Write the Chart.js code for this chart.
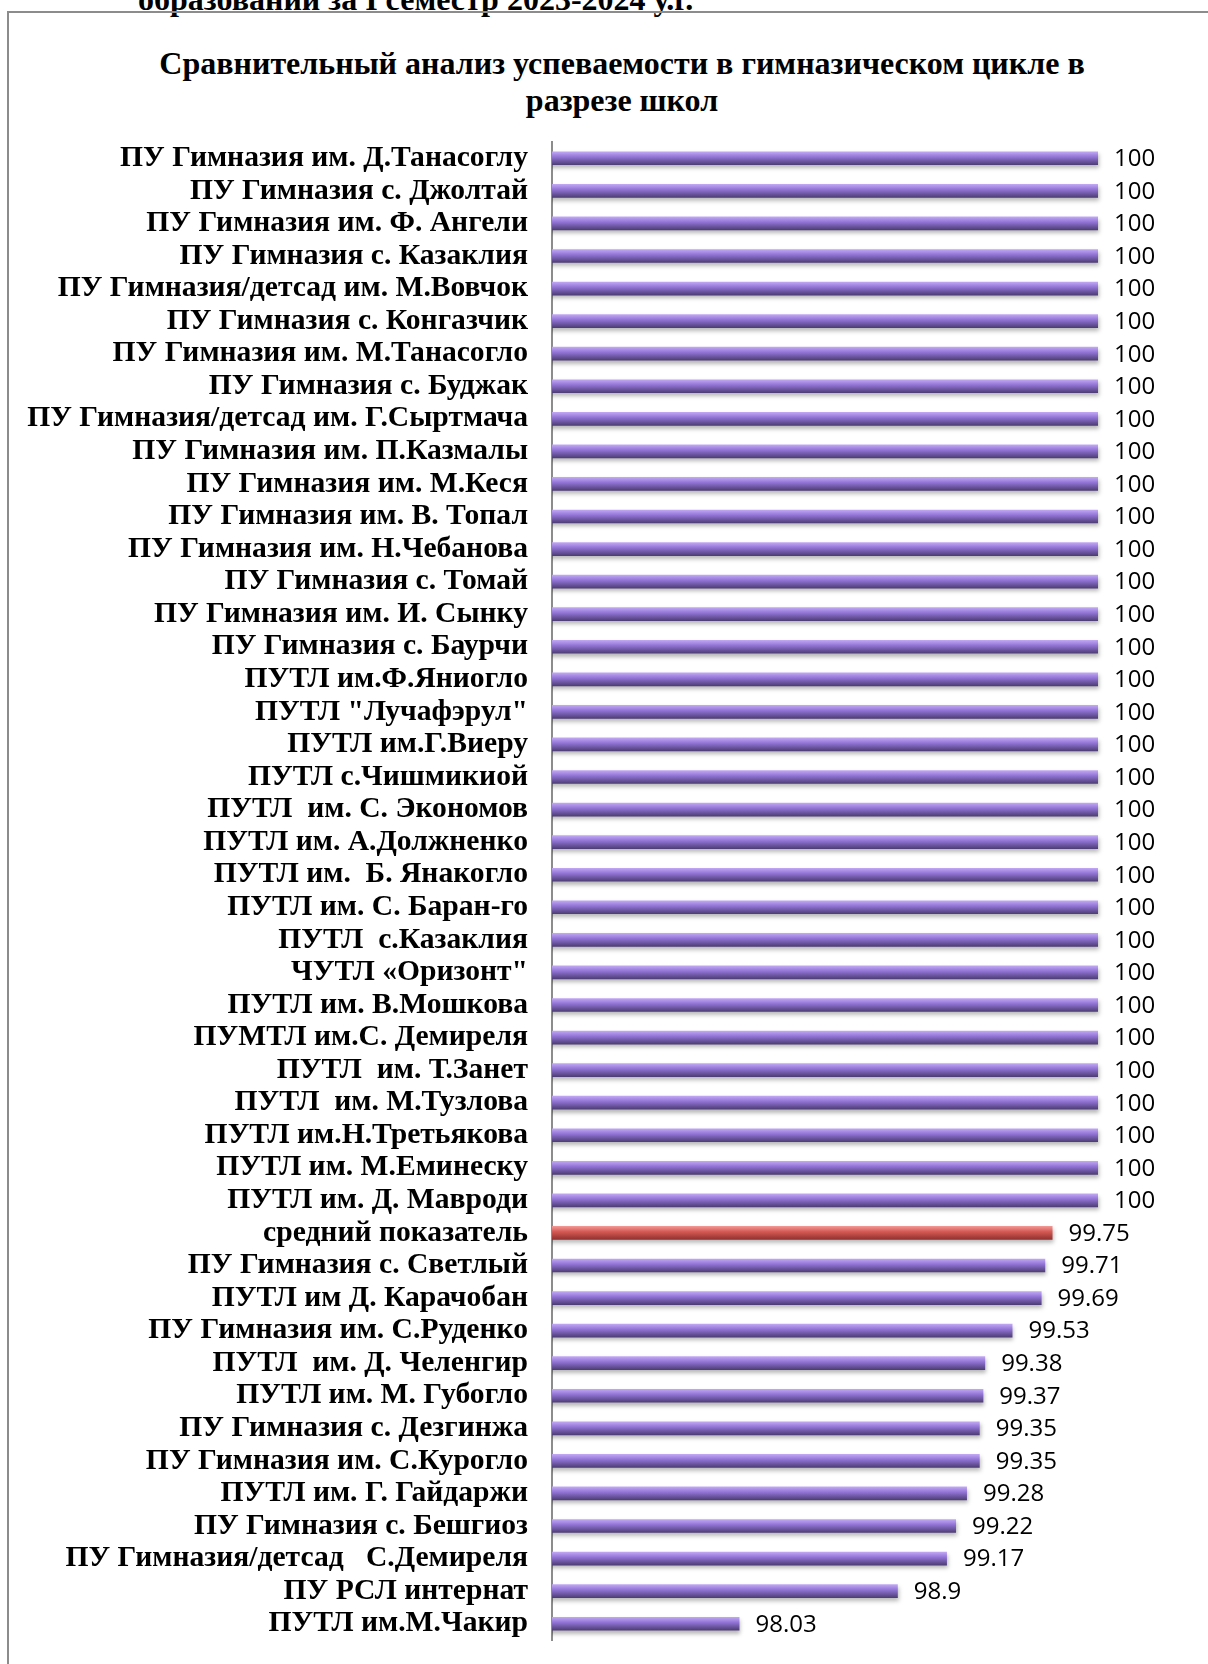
<!DOCTYPE html>
<html lang="ru">
<head>
<meta charset="utf-8">
<title>Успеваемость в гимназическом цикле</title>
<script src="https://cdn.jsdelivr.net/npm/chart.js@4.4.1/dist/chart.umd.min.js"></script>
<style>
    html, body { margin: 0; padding: 0; background: #fff; }
    body { width: 1208px; height: 1664px; position: relative; overflow: hidden; }
    .shapka {
        position: absolute; left: 138px; top: -19px; line-height: 32px;
        font: bold 32px 'Liberation Serif', serif; white-space: nowrap; color: #000;
    }
    .ramka {
        position: absolute; left: 7px; top: 11px; width: 1300px; height: 1800px;
        border: 2px solid #8c8c8c;
    }
    .zagolovok {
        position: absolute; left: 22px; top: 45px; width: 1200px;
        text-align: center; color: #000;
        font: bold 32px/37px 'Liberation Serif', serif;
    }
    #grafik { position: absolute; left: 0; top: 0; }
</style>
</head>
<body>
<div class="shapka">образований за I семестр 2023-2024 у.г.</div>
<div class="ramka"></div>
<div class="zagolovok">Сравнительный анализ успеваемости в гимназическом цикле в<br>разрезе школ</div>
<canvas id="grafik" width="1208" height="1664"></canvas>
<script>
// Названия школ (сверху вниз)
const shkoly = [
    'ПУ Гимназия им. Д.Танасоглу',
    'ПУ Гимназия с. Джолтай',
    'ПУ Гимназия им. Ф. Ангели',
    'ПУ Гимназия с. Казаклия',
    'ПУ Гимназия/детсад им. М.Вовчок',
    'ПУ Гимназия с. Конгазчик',
    'ПУ Гимназия им. М.Танасогло',
    'ПУ Гимназия с. Буджак',
    'ПУ Гимназия/детсад им. Г.Сыртмача',
    'ПУ Гимназия им. П.Казмалы',
    'ПУ Гимназия им. М.Кеся',
    'ПУ Гимназия им. В. Топал',
    'ПУ Гимназия им. Н.Чебанова',
    'ПУ Гимназия с. Томай',
    'ПУ Гимназия им. И. Сынку',
    'ПУ Гимназия с. Баурчи',
    'ПУТЛ им.Ф.Яниогло',
    'ПУТЛ "Лучафэрул"',
    'ПУТЛ им.Г.Виеру',
    'ПУТЛ с.Чишмикиой',
    'ПУТЛ  им. С. Экономов',
    'ПУТЛ им. А.Должненко',
    'ПУТЛ им.  Б. Янакогло',
    'ПУТЛ им. С. Баран-го',
    'ПУТЛ  с.Казаклия',
    'ЧУТЛ «Оризонт"',
    'ПУТЛ им. В.Мошкова',
    'ПУМТЛ им.С. Демиреля',
    'ПУТЛ  им. Т.Занет',
    'ПУТЛ  им. М.Тузлова',
    'ПУТЛ им.Н.Третьякова',
    'ПУТЛ им. М.Еминеску',
    'ПУТЛ им. Д. Мавроди',
    'средний показатель',
    'ПУ Гимназия с. Светлый',
    'ПУТЛ им Д. Карачобан',
    'ПУ Гимназия им. С.Руденко',
    'ПУТЛ  им. Д. Челенгир',
    'ПУТЛ им. М. Губогло',
    'ПУ Гимназия с. Дезгинжа',
    'ПУ Гимназия им. С.Курогло',
    'ПУТЛ им. Г. Гайдаржи',
    'ПУ Гимназия с. Бешгиоз',
    'ПУ Гимназия/детсад   С.Демиреля',
    'ПУ РСЛ интернат',
    'ПУТЛ им.М.Чакир'
];

// Успеваемость, %
const uspevaemost = [
    100, 100, 100, 100, 100, 100, 100, 100, 100, 100, 100,
    100, 100, 100, 100, 100, 100, 100, 100, 100, 100, 100,
    100, 100, 100, 100, 100, 100, 100, 100, 100, 100, 100,
    99.75, 99.71, 99.69, 99.53, 99.38, 99.37, 99.35, 99.35,
    99.28, 99.22, 99.17, 98.9, 98.03
];

const srednij = 'средний показатель';
const osMin = 97;
const osMax = 100.5;

// цвета "объёмных" столбиков: светлый верх, середина, тёмный низ
const fioletovyj = ['#c3aaf5', '#9274d6', '#4b3b72'];
const krasnyj = ['#f29a95', '#d65a55', '#8e302d'];

// градиент для каждого столбика
const obyom = {
    id: 'obyom',
    beforeDatasetsDraw(chart) {
        const ctx = chart.ctx;
        chart.getDatasetMeta(0).data.forEach(function (bar, i) {
            const verh = bar.y - bar.height / 2;
            const niz = bar.y + bar.height / 2;
            const c = shkoly[i] === srednij ? krasnyj : fioletovyj;
            const g = ctx.createLinearGradient(0, verh, 0, niz);
            g.addColorStop(0, c[0]);
            g.addColorStop(0.4, c[1]);
            g.addColorStop(1, c[2]);
            bar.options.backgroundColor = g;
        });
    },
    beforeDatasetDraw(chart) {
        const ctx = chart.ctx;
        ctx.save();
        ctx.shadowColor = 'rgba(0, 0, 0, 0.28)';
        ctx.shadowBlur = 4;
        ctx.shadowOffsetY = 3;
        ctx.shadowOffsetX = 1;
    },
    afterDatasetDraw(chart) {
        chart.ctx.restore();
    }
};

// подписи значений справа от столбиков
const podpisi = {
    id: 'podpisi',
    afterDatasetsDraw(chart) {
        const ctx = chart.ctx;
        const ds = chart.data.datasets[0];
        ctx.save();
        ctx.font = '24px "Open Sans", sans-serif';
        ctx.fillStyle = '#000';
        ctx.textAlign = 'left';
        ctx.textBaseline = 'middle';
        chart.getDatasetMeta(0).data.forEach(function (bar, i) {
            ctx.fillText(String(ds.data[i]), bar.x + 16, bar.y + 1);
        });
        ctx.restore();
    }
};

document.addEventListener('DOMContentLoaded', function () {
    const holst = document.getElementById('grafik');
    new Chart(holst, {
        type: 'bar',
        data: {
            labels: shkoly,
            datasets: [{
                data: uspevaemost,
                backgroundColor: function () { return fioletovyj[1]; },
                borderWidth: 0,
                categoryPercentage: 1,
                barPercentage: 0.42
            }]
        },
        options: {
            indexAxis: 'y',
            responsive: false,
            animation: false,
            devicePixelRatio: 1,
            layout: {
                padding: { left: 20, right: 19, top: 142, bottom: 24 }
            },
            scales: {
                x: {
                    min: osMin,
                    max: osMax,
                    display: false
                },
                y: {
                    afterFit: function (scale) {
                        scale.width = 532;
                        scale.paddingTop = 0;
                        scale.paddingBottom = 0;
                    },
                    grid: { display: false, drawTicks: false },
                    border: { display: true, color: '#8c8c8c', width: 2 },
                    ticks: {
                        autoSkip: false,
                        padding: 24,
                        color: '#000',
                        font: { family: 'Liberation Serif', weight: 'bold', size: 29.6 }
                    }
                }
            },
            plugins: {
                legend: { display: false },
                tooltip: { enabled: false },
                title: { display: false }
            }
        },
        plugins: [obyom, podpisi]
    });
});
</script>
</body>
</html>
